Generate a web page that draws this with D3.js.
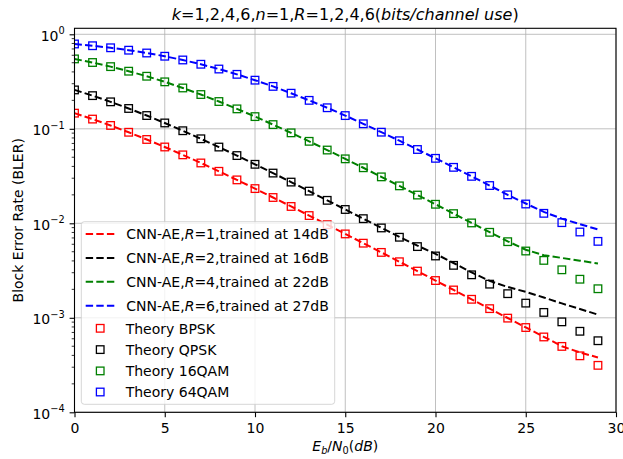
<!DOCTYPE html>
<html>
<head>
<meta charset="utf-8">
<script src="https://cdn.jsdelivr.net/npm/d3@7"></script>
<style>
  html, body { margin: 0; padding: 0; background: #ffffff; }
  svg { display: block; font-family: "DejaVu Sans", "Liberation Sans", sans-serif; }
</style>
</head>
<body>
<svg id="chart" width="623" height="459"></svg>
<script>
// Eb/N0 grid (dB)
const ebn0 = [0,1,2,3,4,5,6,7,8,9,10,11,12,13,14,15,16,17,18,19,20,21,22,23,24,25,26,27,28,29];

// Theoretical block error rates over Rayleigh fading
const theoryBPSK = [0.1464,0.1267,0.1085,0.0919,0.0771,0.0642,0.0530,0.0435,0.0355,0.0288,
  0.0233,0.01875,0.01507,0.01208,0.00967,0.00772,0.00616,0.00492,0.00392,0.00312,
  0.00248,0.00197,0.00157,0.00125,0.000992,0.000789,0.000627,0.000498,0.000396,0.000314];
const theoryQPSK = [0.2579,0.2244,0.1929,0.1641,0.1382,0.1153,0.0954,0.0784,0.0641,0.0521,
  0.0421,0.0340,0.0273,0.0219,0.0175,0.0140,0.0112,0.00893,0.00712,0.00567,
  0.00451,0.00359,0.00285,0.00227,0.00180,0.00143,0.00114,0.000906,0.000720,0.000572];
const theory16QAM = [0.549,0.503,0.455,0.407,0.360,0.314,0.2705,0.2305,0.1944,0.1625,
  0.1346,0.1108,0.0906,0.0737,0.0596,0.0481,0.0387,0.0310,0.0249,0.0199,
  0.0159,0.01266,0.01009,0.00803,0.00639,0.00509,0.00405,0.00322,0.00256,0.00203];
const theory64QAM = [0.790,0.757,0.720,0.679,0.634,0.586,0.535,0.482,0.429,0.377,
  0.327,0.281,0.238,0.200,0.167,0.138,0.113,0.0921,0.0748,0.0604,
  0.0487,0.0391,0.0314,0.0251,0.0200,0.0160,0.01275,0.01016,0.00809,0.00644];

// CNN autoencoder simulated block error rates
const aeR1 = [0.1464,0.1267,0.1085,0.0919,0.0771,0.0642,0.0530,0.0435,0.0355,0.0288,
  0.0233,0.01875,0.01507,0.01208,0.00967,0.00772,0.00616,0.00492,0.00392,0.00312,
  0.00248,0.00197,0.00157,0.00125,0.000995,0.000792,0.000630,0.000500,0.000430,0.000380];
const aeR2 = [0.2579,0.2244,0.1929,0.1641,0.1382,0.1153,0.0954,0.0784,0.0641,0.0521,
  0.0421,0.0340,0.0273,0.0219,0.0175,0.0140,0.0112,0.00895,0.00718,0.00580,
  0.00475,0.00380,0.00302,0.00246,0.00212,0.00188,0.00164,0.00142,0.00124,0.00108];
const aeR4 = [0.549,0.503,0.455,0.407,0.360,0.314,0.2705,0.2305,0.1944,0.1625,
  0.1346,0.1108,0.0906,0.0737,0.0596,0.0481,0.0387,0.0310,0.0249,0.0199,
  0.0159,0.01266,0.01009,0.00805,0.00645,0.00525,0.00460,0.00430,0.00402,0.00375];
const aeR6 = [0.790,0.757,0.720,0.679,0.634,0.586,0.535,0.482,0.429,0.377,
  0.327,0.281,0.238,0.200,0.167,0.138,0.113,0.0921,0.0748,0.0604,
  0.0487,0.0391,0.0314,0.0251,0.0200,0.0162,0.0132,0.0112,0.0098,0.0086];

// Series labels and colours
const lineLabels = [
  {pre: "CNN-AE,", it: "R", post: "=1,trained at 14dB"},
  {pre: "CNN-AE,", it: "R", post: "=2,trained at 16dB"},
  {pre: "CNN-AE,", it: "R", post: "=4,trained at 22dB"},
  {pre: "CNN-AE,", it: "R", post: "=6,trained at 27dB"}
];
const markerLabels = ["Theory BPSK", "Theory QPSK", "Theory 16QAM", "Theory 64QAM"];
const colors = ["#ff0000", "#000000", "#008000", "#0000ff"];

// Axis ticks
const xTicks = [0, 5, 10, 15, 20, 25, 30];
const yTicks = [1e-4, 1e-3, 1e-2, 1e-1, 1e0];
const yTickExp = ["\u22124", "\u22123", "\u22122", "\u22121", "0"];

// ---- layout ----
const svg = d3.select("#chart");
const plot = {left: 74.5, right: 616, top: 28.3, bottom: 412.3};
const FS = 14;

const x = d3.scaleLinear().domain([0, 30]).range([plot.left, plot.right]);
const y = d3.scaleLog().domain([1e-4, 1.1575]).range([plot.bottom, plot.top]);

svg.append("defs").append("clipPath").attr("id", "plotClip")
  .append("rect")
  .attr("x", plot.left).attr("y", plot.top)
  .attr("width", plot.right - plot.left).attr("height", plot.bottom - plot.top);

// grid
const grid = svg.append("g").attr("stroke", "#b0b0b0").attr("stroke-width", 0.8);
grid.selectAll("line.gx").data(xTicks).join("line")
  .attr("x1", d => x(d)).attr("x2", d => x(d))
  .attr("y1", plot.top).attr("y2", plot.bottom);
grid.selectAll("line.gy").data(yTicks).join("line")
  .attr("y1", d => y(d)).attr("y2", d => y(d))
  .attr("x1", plot.left).attr("x2", plot.right);

// data
const dataG = svg.append("g").attr("clip-path", "url(#plotClip)");
const aeSeries = [aeR1, aeR2, aeR4, aeR6];
const theorySeries = [theoryBPSK, theoryQPSK, theory16QAM, theory64QAM];
const line = d3.line().x(d => x(d[0])).y(d => y(d[1]));

aeSeries.forEach((s, i) => {
  dataG.append("path")
    .datum(ebn0.map((e, j) => [e, s[j]]))
    .attr("d", line)
    .attr("fill", "none")
    .attr("stroke", colors[i])
    .attr("stroke-width", 2)
    .attr("stroke-dasharray", "7.4,3.2");
});

const MS = 7.6;
theorySeries.forEach((s, i) => {
  dataG.append("g").selectAll("rect").data(ebn0.map((e, j) => [e, s[j]])).join("rect")
    .attr("x", d => x(d[0]) - MS / 2)
    .attr("y", d => y(d[1]) - MS / 2)
    .attr("width", MS).attr("height", MS)
    .attr("fill", "none")
    .attr("stroke", colors[i])
    .attr("stroke-width", 1.3);
});

// axes
const xAxis = d3.axisBottom(x).tickValues(xTicks).tickSize(4.9).tickPadding(3.5).tickFormat(d => d);
const xg = svg.append("g").attr("transform", `translate(0,${plot.bottom})`).call(xAxis);
xg.select(".domain").remove();
xg.selectAll("line").attr("stroke", "#000").attr("stroke-width", 1.1);
xg.selectAll("text").attr("font-size", FS).attr("font-family", "DejaVu Sans").attr("fill", "#000")
  .attr("dy", null).attr("y", 20.4);

const yAxis = d3.axisLeft(y).tickValues(yTicks).tickSize(4.9).tickFormat("");
const yg = svg.append("g").attr("transform", `translate(${plot.left},0)`).call(yAxis);
yg.select(".domain").remove();
yg.selectAll("line").attr("stroke", "#000").attr("stroke-width", 1.1);

// minor log ticks
const minor = [];
for (let e = -4; e < 0; e++) for (let m = 2; m <= 9; m++) minor.push(m * Math.pow(10, e));
svg.append("g").selectAll("line").data(minor).join("line")
  .attr("x1", plot.left - 2.8).attr("x2", plot.left)
  .attr("y1", d => y(d)).attr("y2", d => y(d))
  .attr("stroke", "#000").attr("stroke-width", 0.8);

// y tick labels 10^n
const ylab = svg.append("g").attr("font-size", FS).attr("fill", "#000");
yTicks.forEach((t, i) => {
  const tx = ylab.append("text")
    .attr("x", plot.left - 9.8)
    .attr("y", y(t) + 6.2)
    .attr("text-anchor", "end");
  tx.append("tspan").text("10");
  tx.append("tspan").attr("font-size", FS * 0.7).attr("dy", -6.5).text(yTickExp[i]);
});

// spines
svg.append("rect")
  .attr("x", plot.left).attr("y", plot.top)
  .attr("width", plot.right - plot.left).attr("height", plot.bottom - plot.top)
  .attr("fill", "none").attr("stroke", "#000").attr("stroke-width", 1.1);

// title
const title = svg.append("text")
  .attr("x", (plot.left + plot.right) / 2).attr("y", 20)
  .attr("text-anchor", "middle").attr("font-size", 16).attr("fill", "#000");
[["k", true], ["=1,2,4,6,", false], ["n", true], ["=1,", false], ["R", true],
 ["=1,2,4,6(", false], ["bits/channel use", true], [")", false]].forEach(([t, it]) => {
  title.append("tspan").attr("font-style", it ? "italic" : "normal").text(t);
});

// x label: E_b/N_0(dB)
const xl = svg.append("text")
  .attr("x", (plot.left + plot.right) / 2).attr("y", 451)
  .attr("text-anchor", "middle").attr("font-size", FS).attr("fill", "#000");
xl.append("tspan").attr("font-style", "italic").text("E");
xl.append("tspan").attr("font-style", "italic").attr("font-size", FS * 0.7).attr("dy", 3).text("b");
xl.append("tspan").attr("dy", -3).text("/");
xl.append("tspan").attr("font-style", "italic").text("N");
xl.append("tspan").attr("font-size", FS * 0.7).attr("dy", 3).text("0");
xl.append("tspan").attr("dy", -3).text("(");
xl.append("tspan").attr("font-style", "italic").text("dB");
xl.append("tspan").text(")");

// y label
svg.append("text")
  .attr("transform", `translate(22.5,${(plot.top + plot.bottom) / 2}) rotate(-90)`)
  .attr("text-anchor", "middle").attr("font-size", FS).attr("fill", "#000")
  .text("Block Error Rate (BLER)");

// legend
const leg = svg.append("g");
leg.append("rect")
  .attr("x", 81.3).attr("y", 221.7).attr("width", 253.4).attr("height", 182.6)
  .attr("rx", 3).attr("ry", 3)
  .attr("fill", "#ffffff").attr("fill-opacity", 0.8)
  .attr("stroke", "#cccccc").attr("stroke-opacity", 0.8).attr("stroke-width", 1);

const lineRows = [234, 258, 281.8, 305.8];
const markRows = [328.3, 349.6, 370.9, 392];
lineLabels.forEach((lab, i) => {
  const cy = lineRows[i];
  leg.append("line")
    .attr("x1", 85.7).attr("x2", 114.7).attr("y1", cy).attr("y2", cy)
    .attr("stroke", colors[i]).attr("stroke-width", 2).attr("stroke-dasharray", "7.4,3.2");
  const t = leg.append("text").attr("x", 126.3).attr("y", cy + 5.3)
    .attr("font-size", FS).attr("fill", "#000");
  t.append("tspan").text(lab.pre);
  t.append("tspan").attr("font-style", "italic").text(lab.it);
  t.append("tspan").text(lab.post);
});
markerLabels.forEach((lab, i) => {
  const cy = markRows[i];
  leg.append("rect")
    .attr("x", 100.2 - MS / 2).attr("y", cy - MS / 2).attr("width", MS).attr("height", MS)
    .attr("fill", "none").attr("stroke", colors[i]).attr("stroke-width", 1.3);
  leg.append("text").attr("x", 125.7).attr("y", cy + 5.3)
    .attr("font-size", FS).attr("fill", "#000").text(lab);
});
</script>
</body>
</html>
